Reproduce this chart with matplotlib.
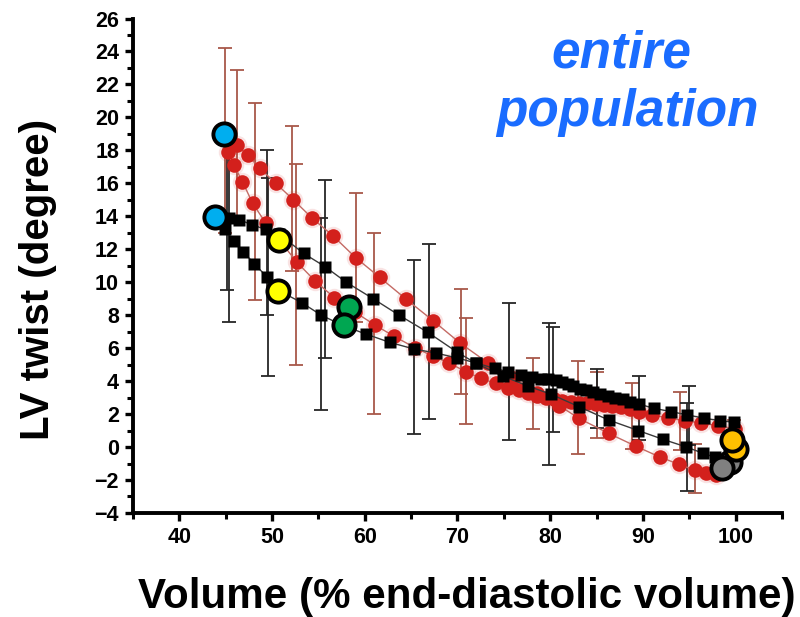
import matplotlib
matplotlib.use("Agg")
import matplotlib.pyplot as plt
from matplotlib.ticker import MultipleLocator

plt.rcParams['font.family'] = ['Liberation Sans', 'DejaVu Sans']

# ---- red group: systolic branch (upper) and diastolic branch (lower + flat filling band)
red_sys_x = [44.8, 46.2, 47.4, 48.7, 50.4, 52.3, 54.3, 56.6, 59.0, 61.6, 64.4, 67.4, 70.3,
             73.3, 76.0, 78.6, 81.0, 83.1, 86.3, 89.2, 91.8, 93.9, 95.6, 96.8, 97.9]
red_sys_y = [19.0, 18.3, 17.7, 16.9, 16.0, 15.0, 13.9, 12.8, 11.5, 10.3, 9.0, 7.65, 6.3,
             5.1, 4.2, 3.3, 2.5, 1.74, 0.83, 0.06, -0.6, -1.05, -1.4, -1.6, -1.7]

red_dia_x = [44.8, 45.3, 45.9, 46.8, 47.9, 49.3, 51.0, 52.7, 54.6, 56.7, 58.9, 61.1, 63.1,
             65.4, 67.4, 69.1, 70.9, 72.5, 74.1, 75.5, 76.6, 77.6, 78.6, 79.5, 80.4, 81.3,
             82.2, 83.1, 84.0, 84.9, 85.8, 86.7, 87.6, 88.6, 89.6, 91.0, 92.7, 94.5, 96.3,
             98.1, 99.9]
red_dia_y = [19.0, 17.9, 17.1, 16.1, 14.8, 13.6, 12.4, 11.2, 10.1, 9.07, 8.2, 7.4, 6.74,
             6.03, 5.5, 5.1, 4.57, 4.17, 3.86, 3.56, 3.45, 3.3, 3.1, 2.98, 2.9, 2.82,
             2.76, 2.7, 2.65, 2.6, 2.55, 2.5, 2.42, 2.3, 2.15, 1.95, 1.77, 1.6, 1.45,
             1.3, 1.1]

# ---- black group
blk_sys_x = [43.8, 45.4, 46.4, 47.8, 49.3, 50.8, 53.4, 55.7, 58.0, 60.9, 63.7, 66.8, 69.9,
             72.0, 74.9, 77.6, 80.1, 83.1, 86.3, 89.5, 92.2, 94.6, 96.5, 97.8]
blk_sys_y = [14.0, 13.9, 13.8, 13.5, 13.2, 12.9, 11.75, 10.95, 10.0, 9.0, 8.0, 6.96, 5.78,
             5.08, 4.3, 3.7, 3.2, 2.45, 1.64, 1.0, 0.46, 0.02, -0.38, -0.63]

blk_dia_x = [43.8, 44.9, 45.9, 46.9, 48.1, 49.5, 50.7, 53.2, 55.3, 57.7, 60.1, 62.7, 65.3,
             67.7, 70.0, 72.0, 74.0, 75.5, 76.8, 78.0, 79.0, 79.8, 80.6, 81.3, 81.9, 82.5,
             83.2, 83.9, 84.6, 85.4, 86.2, 87.0, 87.8, 88.6, 89.6, 91.2, 93.0, 94.8, 96.6,
             98.3, 99.8]
blk_dia_y = [14.0, 13.2, 12.5, 11.85, 11.1, 10.3, 9.5, 8.76, 8.0, 7.36, 6.86, 6.35, 5.95,
             5.7, 5.4, 5.1, 4.77, 4.57, 4.4, 4.22, 4.15, 4.1, 4.05, 3.95, 3.85, 3.7,
             3.55, 3.45, 3.32, 3.2, 3.12, 3.0, 2.9, 2.75, 2.6, 2.35, 2.15, 1.95, 1.75,
             1.6, 1.5]

# ---- standard deviations (x, mean, sd)
red_err_x = [44.9, 46.2, 48.2, 52.2, 52.6, 59.0, 61.0, 70.4, 70.9, 78.1, 83.0, 85.1, 88.8, 94.0, 95.6, 99.8]
red_err_y = [18.6, 18.3, 14.9, 15.1, 11.1, 11.5, 7.5, 6.4, 4.6, 3.25, 2.4, 2.55, 1.9, 1.6, -1.3, 1.2]
red_err_e = [5.6, 4.6, 6.0, 4.4, 6.1, 3.9, 5.5, 3.2, 3.2, 2.15, 2.8, 2.0, 2.0, 1.75, 1.5, 0.45]

blk_err_x = [45.1, 45.4, 49.4, 49.6, 55.75, 55.3, 65.3, 66.9, 75.6, 79.9, 80.3, 85.0, 89.6, 94.7, 95.0]
blk_err_y = [13.9, 13.2, 13.0, 10.3, 10.8, 8.07, 6.07, 7.0, 4.56, 3.2, 4.1, 2.95, 2.36, 0.0, 1.9]
blk_err_e = [4.4, 5.6, 5.0, 6.0, 5.4, 5.8, 5.3, 5.3, 4.15, 4.3, 3.2, 1.8, 1.93, 2.65, 1.8]

# ---- highlighted time points
blue_x, blue_y = [44.8, 43.85], [19.0, 13.96]
yellow_x, yellow_y = [50.77, 50.66], [12.56, 9.48]
green_x, green_y = [58.3, 57.75], [8.5, 7.4]
gray_back_x, gray_back_y = [99.4], [-0.89]
orange_x, orange_y = [100.0, 99.65], [-0.14, 0.42]
gray_front_x, gray_front_y = [98.5], [-1.3]

x_ticks = [40, 50, 60, 70, 80, 90, 100]
y_ticks = list(range(-4, 27, 2))

fig = plt.figure(figsize=(8.0, 6.17), dpi=100)
ax = fig.add_axes([0.16625, 0.1686, 0.81125, 0.8014])

RED = '#d3201c'
RED_LINE = '#c46a64'
RED_ERR = '#a8584a'
BLK_ERR = '#262626'

# error bars underneath everything
ax.errorbar(red_err_x, red_err_y, yerr=red_err_e, fmt='none', ecolor=RED_ERR,
            elinewidth=1.3, capsize=5, capthick=1.3, zorder=1)
ax.errorbar(blk_err_x, blk_err_y, yerr=blk_err_e, fmt='none', ecolor=BLK_ERR,
            elinewidth=1.3, capsize=5, capthick=1.3, zorder=1.5)

# red loop with a soft halo
for xs, ys in [(red_dia_x, red_dia_y), (red_sys_x, red_sys_y)]:
    ax.plot(xs, ys, 'o', ms=14, color=RED, alpha=0.12, mec='none', zorder=2)
    ax.plot(xs, ys, '-', color=RED_LINE, lw=1.0, zorder=2.2)
    ax.plot(xs, ys, 'o', ms=10.5, color=RED, mec='none', zorder=2.4)

# black loop
for xs, ys in [(blk_dia_x, blk_dia_y), (blk_sys_x, blk_sys_y)]:
    ax.plot(xs, ys, '-', color='#3a3a3a', lw=1.0, zorder=3)
    ax.plot(xs, ys, 's', ms=8.3, color='black', mec='none', zorder=3.2)

# coloured time markers
mk = dict(ls='none', marker='o', ms=16, mec='black', mew=2.8, zorder=5)
ax.plot(blue_x, blue_y, mfc='#00aeef', **mk)
ax.plot(yellow_x, yellow_y, mfc='#ffff00', **mk)
ax.plot(green_x, green_y, mfc='#00a651', **mk)
ax.plot(gray_back_x, gray_back_y, mfc='#808080', **mk)
ax.plot(orange_x[:1], orange_y[:1], mfc='#ffc000', **mk)
ax.plot(orange_x[1:], orange_y[1:], mfc='#ffc000', **mk)
ax.plot(gray_front_x, gray_front_y, mfc='#808080', **mk)

ax.set_xlim(35, 105)
ax.set_ylim(-4, 26)
ax.set_xticks(x_ticks)
ax.set_yticks(y_ticks)
ax.xaxis.set_minor_locator(MultipleLocator(5))
ax.yaxis.set_minor_locator(MultipleLocator(1))

for s in ['top', 'right']:
    ax.spines[s].set_visible(False)
for s in ['left', 'bottom']:
    ax.spines[s].set_linewidth(2.8)
    ax.spines[s].set_capstyle('projecting')

ax.tick_params(which='major', direction='out', length=6, width=2.4, pad=4,
               labelsize=15.5)
ax.tick_params(which='minor', direction='out', length=4, width=2.2)
for lab in ax.get_xticklabels() + ax.get_yticklabels():
    lab.set_fontweight('bold')

fig.text(0.048, 1 - 279 / 617, 'LV twist (degree)', rotation=90, ha='center', va='center',
         fontsize=29, fontweight='bold')
fig.text(467 / 800, 1 - 597 / 617, 'Volume (% end-diastolic volume)', ha='center', va='center',
         fontsize=30.3, fontweight='bold')

BLUE_TXT = '#1a6cff'
ax.text(621 / 800, 1 - 54 / 617, 'entire', transform=fig.transFigure, ha='center', va='center',
        fontsize=37, fontweight='bold', fontstyle='italic', color=BLUE_TXT)
ax.text(627 / 800, 1 - 112 / 617, 'population', transform=fig.transFigure, ha='center',
        va='center', fontsize=37, fontweight='bold', fontstyle='italic', color=BLUE_TXT)

fig.savefig('out.png', dpi=100)
